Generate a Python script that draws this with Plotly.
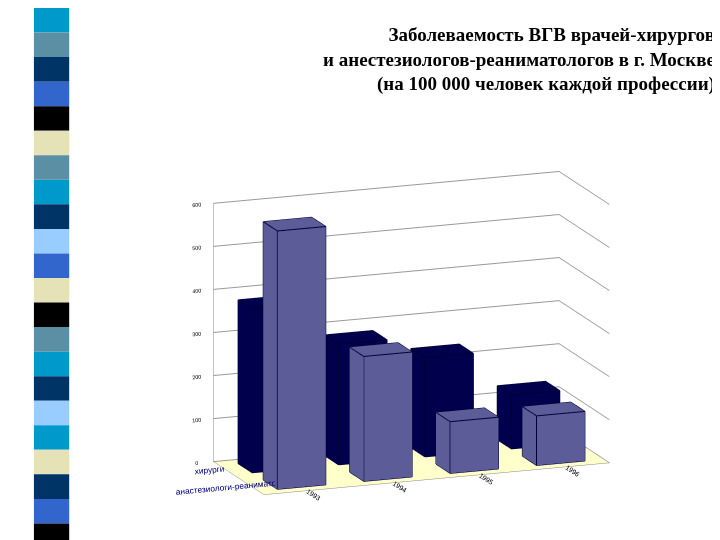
import plotly.graph_objects as go

years = ["1993", "1994", "1995", "1996"]
series = ["анастезиологи-реаниматологи", "хирурги"]
anest = [600, 290, 120, 115]
surg = [380, 280, 230, 125]
bar_colors = ["#9999ff", "#000080"]

stripe_colors = ["#0099cc", "#5b8fa3", "#003366", "#3366cc", "#000000", "#e6e2b8",
                 "#5b8fa3", "#0099cc", "#003366", "#99ccff", "#3366cc", "#e6e2b8",
                 "#000000", "#5b8fa3", "#0099cc", "#003366", "#99ccff", "#0099cc",
                 "#e6e2b8", "#003366", "#3366cc", "#000000"]


def box(xc, yc, h, w=0.28, d=0.28):
    x0, x1, y0, y1 = xc - w, xc + w, yc - d, yc + d
    xs = [x0, x1, x1, x0, x0, x1, x1, x0]
    ys = [y0, y0, y1, y1, y0, y0, y1, y1]
    zs = [0, 0, 0, 0, h, h, h, h]
    i = [0, 0, 4, 4, 0, 0, 1, 1, 2, 2, 3, 3]
    j = [1, 2, 5, 6, 1, 5, 2, 6, 3, 7, 0, 4]
    k = [2, 3, 6, 7, 5, 4, 6, 5, 7, 6, 4, 7]
    return xs, ys, zs, i, j, k


def edges(xc, yc, h, w=0.28, d=0.28):
    x0, x1, y0, y1 = xc - w, xc + w, yc - d, yc + d
    ex, ey, ez = [], [], []
    for z in (0, h):
        ex += [x0, x1, x1, x0, x0, None]
        ey += [y0, y0, y1, y1, y0, None]
        ez += [z, z, z, z, z, None]
    for x, y in ((x0, y0), (x1, y0), (x1, y1), (x0, y1)):
        ex += [x, x, None]
        ey += [y, y, None]
        ez += [0, h, None]
    return ex, ey, ez


fig = go.Figure()
for si, vals in enumerate([anest, surg]):
    lx, ly, lz = [], [], []
    for yi, v in enumerate(vals):
        xs, ys, zs, i, j, k = box(yi, si, v)
        fig.add_trace(go.Mesh3d(x=xs, y=ys, z=zs, i=i, j=j, k=k, color=bar_colors[si],
                                flatshading=True, showscale=False, hoverinfo="skip",
                                lighting=dict(ambient=0.6, diffuse=0.7, specular=0.1),
                                lightposition=dict(x=-1000, y=-3000, z=2000)))
        ex, ey, ez = edges(yi, si, v)
        lx += ex
        ly += ey
        lz += ez
    fig.add_trace(go.Scatter3d(x=lx, y=ly, z=lz, mode="lines",
                               line=dict(color="#000033", width=2), hoverinfo="skip"))

axis_common = dict(showbackground=True, backgroundcolor="white", gridcolor="#999999",
                   linecolor="#888888", showline=True, title="", zeroline=False)
fig.update_layout(
    width=720, height=540, showlegend=False, paper_bgcolor="white",
    margin=dict(l=0, r=0, t=0, b=0),
    scene=dict(
        domain=dict(x=[0.14, 0.98], y=[0.0, 0.76]),
        xaxis=dict(axis_common, tickvals=[0, 1, 2, 3], ticktext=years, range=[-0.5, 3.5],
                   showgrid=False, tickfont=dict(size=9, family="Arial", color="black")),
        yaxis=dict(axis_common, tickvals=[0, 1], ticktext=series, range=[-0.5, 1.5],
                   showgrid=False, tickfont=dict(size=10, family="Arial Black, Arial",
                                                 color="#000080")),
        zaxis=dict(axis_common, range=[0, 600], dtick=100, backgroundcolor="#ffffcc",
                   tickfont=dict(size=8, family="Arial", color="black")),
        aspectmode="manual", aspectratio=dict(x=1.8, y=0.7, z=1.3),
        camera=dict(eye=dict(x=-0.9, y=-2.4, z=0.6), center=dict(x=0.0, y=0, z=-0.05),
                    projection=dict(type="orthographic")),
    ),
)

# slide decoration: striped bar on the left
n = len(stripe_colors)
for idx, c in enumerate(stripe_colors):
    fig.add_shape(type="rect", xref="paper", yref="paper", x0=0.036, x1=0.085,
                  y0=1 - (idx + 1) / n, y1=1 - idx / n, fillcolor=c, line_width=0, layer="above")

fig.add_annotation(xref="paper", yref="paper", x=0.985, y=0.975, xanchor="right", yanchor="top",
                   align="right", showarrow=False,
                   text="<b>Заболеваемость ВГВ врачей-хирургов<br>и анестезиологов-реаниматологов в г. Москве<br>(на 100 000 человек каждой профессии)</b>",
                   font=dict(family="Liberation Serif", size=19, color="black"))

fig.write_html("out.html")
